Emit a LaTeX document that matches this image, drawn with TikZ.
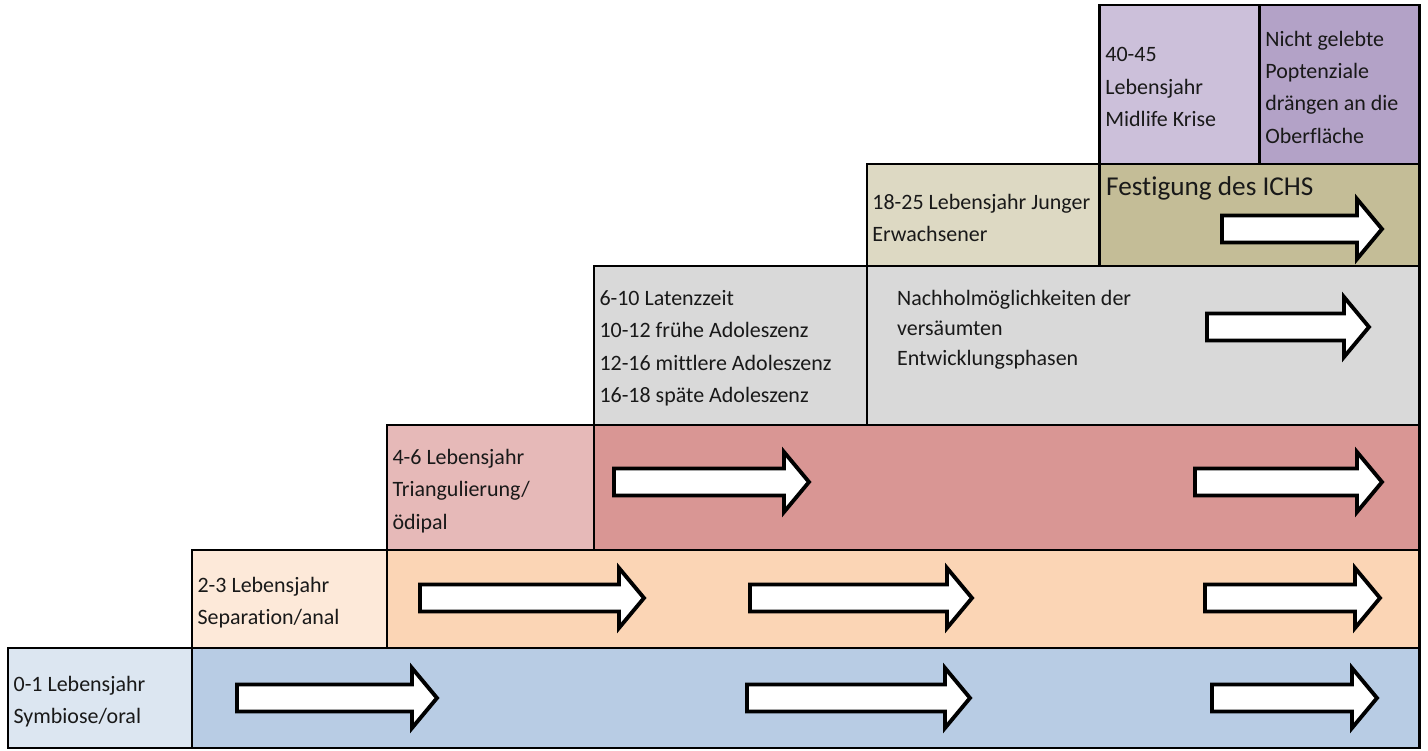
\documentclass[tikz,border=0pt]{standalone}
\usepackage{fontspec}
\setmainfont{Carlito}[Ligatures=NoCommon]
\usetikzlibrary{positioning, calc}

\definecolor{oralL}{HTML}{DCE6F1}
\definecolor{oralD}{HTML}{B8CCE4}
\definecolor{analL}{HTML}{FDE9D9}
\definecolor{analD}{HTML}{FBD5B5}
\definecolor{oediL}{HTML}{E6B9B8}
\definecolor{oediD}{HTML}{D99694}
\definecolor{latG}{HTML}{D9D9D9}
\definecolor{jungL}{HTML}{DDD9C3}
\definecolor{jungD}{HTML}{C4BD97}
\definecolor{midL}{HTML}{CCC0DA}
\definecolor{midD}{HTML}{B3A2C7}

\begin{document}
\begin{tikzpicture}[x=0.02cm, y=-0.02cm,
  font=\fontsize{12.5}{18.4}\selectfont,
  box/.style={rectangle, draw=black, line width=1.5pt, inner sep=0pt, outer sep=0pt},
  txt/.style={align=left, inner sep=0pt, anchor=west, text=black!90},
  fwd/.pic={\draw[line width=2.2pt, fill=white, line join=miter]
    (0,-13.5) -- (#1-25,-13.5) -- (#1-25,-30) -- (#1,0) -- (#1-25,30) -- (#1-25,13.5) -- (0,13.5) -- cycle;}]
\useasboundingbox (0,0) rectangle (1428,751);
% steps, from bottom to top
\node[box, fill=oralL, minimum width=3.68cm, minimum height=2cm, anchor=south west] (row1lab) at (8,748) {};
\node[box, fill=oralD, minimum width=24.56cm, minimum height=2cm, right=0pt of row1lab] (row1main) {};
\node[box, fill=analL, minimum width=3.9cm, minimum height=1.96cm, anchor=south west] (row2lab) at (row1main.north west) {};
\node[box, fill=analD, minimum width=20.66cm, minimum height=1.96cm, right=0pt of row2lab] (row2main) {};
\node[box, fill=oediL, minimum width=4.14cm, minimum height=2.5cm, anchor=south west] (row3lab) at (row2main.north west) {};
\node[box, fill=oediD, minimum width=16.52cm, minimum height=2.5cm, right=0pt of row3lab] (row3main) {};
\node[box, fill=latG, minimum width=5.46cm, minimum height=3.18cm, anchor=south west] (row4lab) at (row3main.north west) {};
\node[box, fill=latG, minimum width=11.06cm, minimum height=3.18cm, right=0pt of row4lab] (row4main) {};
\node[box, fill=jungL, minimum width=4.66cm, minimum height=2.04cm, anchor=south west] (row5lab) at (row4main.north west) {};
\node[box, fill=jungD, minimum width=6.4cm, minimum height=2.04cm, right=0pt of row5lab] (row5main) {};
\node[box, fill=midL, minimum width=3.2cm, minimum height=3.18cm, anchor=south west] (row6lab) at (row5main.north west) {};
\node[box, fill=midD, minimum width=3.2cm, minimum height=3.18cm, right=0pt of row6lab] (row6main) {};
% texts
\node[txt] (t1) at ([xshift=3pt, yshift=-2pt]row1lab.west) {0-1 Lebensjahr\\Symbiose/oral};
\node[txt] (t2) at ([xshift=3pt, yshift=-2pt]row2lab.west) {2-3 Lebensjahr\\Separation/anal};
\node[txt] (t3) at ([xshift=3pt, yshift=-2pt]row3lab.west) {4-6 Lebensjahr\\Triangulierung/\\ödipal};
\node[txt] (t4) at ([xshift=3pt, yshift=-1.5pt]row4lab.west) {6-10 Latenzzeit\\10-12 frühe Adoleszenz\\12-16 mittlere Adoleszenz\\16-18 späte Adoleszenz};
\node[txt, anchor=north west, font=\fontsize{12.5}{17}\selectfont] (t4b) at ($(row4main.north west)+(30,24)$) {Nachholmöglichkeiten der\\versäumten\\Entwicklungsphasen};
\node[txt] (t5) at ([xshift=3pt, yshift=-1.5pt]row5lab.west) {18-25 Lebensjahr Junger\\Erwachsener};
\node[txt, anchor=north west, font=\fontsize{15.5}{18}\selectfont] (t5b) at ($(row5main.north west)+(6,12)$) {Festigung des ICHS};
\node[txt] (t6) at ([xshift=3pt, yshift=-1.5pt]row6lab.west) {40-45\\Lebensjahr\\Midlife Krise};
\node[txt] (t6b) at ([xshift=3pt, yshift=-1.5pt]row6main.west) {Nicht gelebte\\Poptenziale\\drängen an die\\Oberfläche};
% arrows
\pic (a11) at (237,698) {fwd=200};
\pic (a12) at (747,698) {fwd=223};
\pic (a13) at (1212,698) {fwd=165};
\pic (a21) at (420,598) {fwd=224};
\pic (a22) at (750,598) {fwd=222};
\pic (a23) at (1205,598) {fwd=175};
\pic (a31) at (614,482) {fwd=195};
\pic (a32) at (1195,482) {fwd=187};
\pic (a41) at (1207,327) {fwd=162};
\pic (a51) at (1222,229) {fwd=160};
\end{tikzpicture}
\end{document}
